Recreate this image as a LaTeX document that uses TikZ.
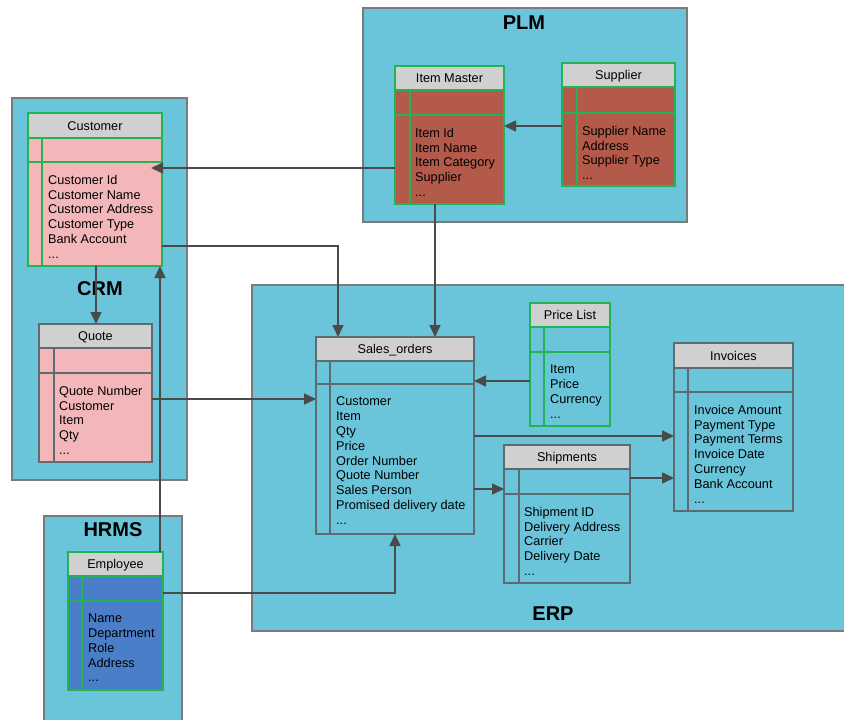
\documentclass[tikz,border=0pt]{standalone}
\usepackage{fontspec}
\setmainfont{Liberation Sans}
\usetikzlibrary{arrows.meta,fit,calc}
\definecolor{cyanbg}{HTML}{6AC4DA}
\definecolor{framegray}{HTML}{7A7A7A}
\definecolor{entgray}{HTML}{5E6B70}
\definecolor{entgreen}{HTML}{22B352}
\definecolor{hdrgray}{HTML}{D0D0D0}
\definecolor{plmred}{HTML}{B35A4A}
\definecolor{crmpink}{HTML}{F4B7B9}
\definecolor{hrblue}{HTML}{4A7EC8}
\definecolor{conncol}{HTML}{4A4A4A}
\tikzset{
  frame/.style={fill=cyanbg, draw=framegray, line width=1.3pt, inner sep=0pt, outer sep=0pt},
  plment/.style={fill=plmred, draw=entgreen, line width=1.2pt},
  crment/.style={fill=crmpink, draw=entgreen, line width=1.2pt},
  quoteent/.style={fill=crmpink, draw=entgray, line width=1.2pt},
  hrent/.style={fill=hrblue, draw=entgreen, line width=1.2pt},
  erpent/.style={fill=cyanbg, draw=entgray, line width=1.2pt},
  pricent/.style={fill=cyanbg, draw=entgreen, line width=1.2pt},
  conn/.style={draw=conncol, line width=1.6pt, -{Triangle[length=12pt,width=11pt]}},
  ttl/.style={font=\fontsize{12.7}{14.8}\selectfont, text height=9pt, text depth=0pt, inner sep=0pt},
  bodytxt/.style={font=\fontsize{12.7}{14.8}\selectfont, align=left, anchor=north west, inner sep=0pt},
  big/.style={font=\fontsize{20}{24}\selectfont\bfseries, text height=14.3pt, text depth=0pt, inner sep=0pt},
}
% #1 name, #2 style, #3 x1, #4 y1, #5 x2, #6 y2, #7 header bottom, #8 row bottom, #9 vertical x
\newcommand\entitybox[9]{%
  \node[fit={(#3,#4)(#5,#6)}, inner sep=0pt, outer sep=0pt, #2] (#1) {};
  \fill[hdrgray] (#3,#4) rectangle (#5,#7);
  \draw[#2, fill=none] (#3,#7) -- (#5,#7) (#3,#8) -- (#5,#8) (#9,#7) -- (#9,#6) (#3,#4) rectangle (#5,#6);
}
\begin{document}
\begin{tikzpicture}[x=1pt,y=-1pt]
\useasboundingbox (0,0) rectangle (844,720);
\fill[white] (0,0) rectangle (844,720);

% frames
\node[frame, fit={(363,8)(687,222)}] (plm) {};
\node[frame, fit={(12,98)(187,480)}] (crm) {};
\node[frame, fit={(44,516)(182,724)}] (hrms) {};
\node[frame, fit={(252,285)(850,631)}] (erp) {};
\node[big] (plmlbl) at (524,22) {PLM};
\node[big] (crmlbl) at (100,288) {CRM};
\node[big] (hrmslbl) at (113,529) {HRMS};
\node[big] (erplbl) at (553,613) {ERP};

% entities
\entitybox{im}{plment}{395}{66}{504}{204}{90}{115}{410}
\node[ttl] (im-t) at (449.5,78) {Item Master};
\node[bodytxt] (im-b) at (415,127.8) {Item Id\\Item Name\\Item Category\\Supplier\\...};

\entitybox{sup}{plment}{562}{63}{675}{186}{87}{113}{577}
\node[ttl] (sup-t) at (618.5,75) {Supplier};
\node[bodytxt] (sup-b) at (582,125.8) {Supplier Name\\Address\\Supplier Type\\...};

\entitybox{cust}{crment}{28}{113}{162}{266}{138}{162}{42}
\node[ttl] (cust-t) at (95,125.5) {Customer};
\node[bodytxt] (cust-b) at (48,174.8) {Customer Id\\Customer Name\\Customer Address\\Customer Type\\Bank Account\\...};

\entitybox{quote}{quoteent}{39}{324}{152}{462}{348}{373}{54}
\node[ttl] (quote-t) at (95.5,336) {Quote};
\node[bodytxt] (quote-b) at (59,385.8) {Quote Number\\Customer\\Item\\Qty\\...};

\entitybox{emp}{hrent}{68}{552}{163}{690}{576}{601}{82}
\node[ttl] (emp-t) at (115.5,564) {Employee};
\node[bodytxt] (emp-b) at (88,613.8) {Name\\Department\\Role\\Address\\...};

\entitybox{so}{erpent}{316}{337}{474}{534}{361}{384}{330}
\node[ttl] (so-t) at (395,349) {Sales\_orders};
\node[bodytxt] (so-b) at (336,396.8) {Customer\\Item\\Qty\\Price\\Order Number\\Quote Number\\Sales Person\\Promised delivery date\\...};

\entitybox{price}{pricent}{530}{303}{610}{426}{327}{352}{544}
\node[ttl] (price-t) at (570,315) {Price List};
\node[bodytxt] (price-b) at (550,364.8) {Item\\Price\\Currency\\...};

\entitybox{ship}{erpent}{504}{445}{630}{583}{469}{494}{519}
\node[ttl] (ship-t) at (567,457) {Shipments};
\node[bodytxt] (ship-b) at (524,506.8) {Shipment ID\\Delivery Address\\Carrier\\Delivery Date\\...};

\entitybox{inv}{erpent}{674}{343}{793}{511}{368}{392}{688}
\node[ttl] (inv-t) at (733.5,355.5) {Invoices};
\node[bodytxt] (inv-b) at (694,404.8) {Invoice Amount\\Payment Type\\Payment Terms\\Invoice Date\\Currency\\Bank Account\\...};

% connectors
\draw[conn] (sup.west |- 0,126) -- (im.east |- 0,126);
\draw[conn] (im.west |- 0,168) -- ($(cust.east |- 0,168)+(-11,0)$);
\draw[conn] (cust.east |- 0,246) -| (so.north -| 338,0);
\draw[conn] (im.south -| 435,0) -- (so.north -| 435,0);
\draw[conn] (cust.south -| 96,0) -- (quote.north -| 96,0);
\draw[conn] (emp.north -| 160,0) -- (cust.south -| 160,0);
\draw[conn] (quote.east |- 0,399) -- (so.west |- 0,399);
\draw[conn] (price.west |- 0,381) -- (so.east |- 0,381);
\draw[conn] (so.east |- 0,436) -- (inv.west |- 0,436);
\draw[conn] (so.east |- 0,489) -- (ship.west |- 0,489);
\draw[conn] (ship.east |- 0,478) -- (inv.west |- 0,478);
\draw[conn] (emp.east |- 0,593) -| (so.south -| 395,0);
\end{tikzpicture}
\end{document}
